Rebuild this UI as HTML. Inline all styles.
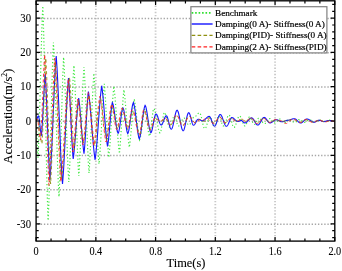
<!DOCTYPE html>
<html><head><meta charset="utf-8"><style>
html,body{margin:0;padding:0;background:#fff;}
svg{display:block;font-family:"Liberation Serif",serif;filter:blur(0.25px);}
text{stroke:#000;stroke-width:0.12px;}
</style></head><body>
<svg width="342" height="271" viewBox="0 0 342 271">
<defs><clipPath id="pc"><rect x="36.1" y="1.0" width="298.7" height="240.0"/></clipPath></defs>
<g stroke="#c8c8c8" stroke-width="1.8" stroke-dasharray="1.35 1.75"><line x1="95.84" y1="2.5" x2="95.84" y2="241.0"/><line x1="155.58" y1="2.5" x2="155.58" y2="241.0"/><line x1="215.32" y1="2.5" x2="215.32" y2="241.0"/><line x1="275.06" y1="2.5" x2="275.06" y2="241.0"/></g><g stroke="#a6a6a6" stroke-width="1.5" stroke-dasharray="1.35 1.8"><line x1="37.6" y1="18.44" x2="334.8" y2="18.44"/><line x1="37.6" y1="52.73" x2="334.8" y2="52.73"/><line x1="37.6" y1="87.01" x2="334.8" y2="87.01"/><line x1="37.6" y1="121.30" x2="334.8" y2="121.30"/><line x1="37.6" y1="155.59" x2="334.8" y2="155.59"/><line x1="37.6" y1="189.87" x2="334.8" y2="189.87"/><line x1="37.6" y1="224.16" x2="334.8" y2="224.16"/></g><g clip-path="url(#pc)"><path d="M36.00 121.00 36.25 123.59 36.50 127.82 36.75 133.32 37.00 139.50 37.25 145.68 37.50 151.18 37.75 155.41 38.00 158.00 38.25 152.79 38.51 146.75 38.76 139.94 39.01 132.39 39.26 124.19 39.52 115.43 39.77 106.21 40.02 96.66 40.27 86.91 40.53 77.09 40.78 67.34 41.03 57.79 41.28 48.57 41.54 39.81 41.79 31.61 42.04 24.06 42.29 17.25 42.55 11.21 42.80 6.00 43.05 12.61 43.30 20.16 43.56 28.63 43.81 37.97 44.06 48.09 44.31 58.92 44.57 70.35 44.82 82.26 45.07 94.51 45.32 106.98 45.58 119.52 45.83 131.99 46.08 144.24 46.33 156.15 46.59 167.58 46.84 178.41 47.09 188.53 47.34 197.87 47.60 206.34 47.85 213.89 48.10 220.50 48.35 215.02 48.60 208.75 48.86 201.72 49.11 193.97 49.36 185.57 49.61 176.58 49.87 167.10 50.12 157.22 50.37 147.05 50.62 136.70 50.88 126.30 51.13 115.95 51.38 105.78 51.63 95.90 51.89 86.42 52.14 77.43 52.39 69.03 52.64 61.28 52.90 54.25 53.15 47.98 53.40 42.50 53.65 47.02 53.91 52.16 54.16 57.90 54.42 64.22 54.67 71.06 54.93 78.38 55.18 86.10 55.44 94.17 55.69 102.50 55.95 111.01 56.20 119.60 56.45 128.19 56.71 136.70 56.96 145.03 57.22 153.10 57.47 160.82 57.73 168.14 57.98 174.98 58.24 181.30 58.49 187.04 58.75 192.18 59.00 196.70 59.26 191.63 59.51 185.72 59.77 179.01 60.02 171.57 60.28 163.48 60.53 154.85 60.79 145.79 61.04 136.44 61.30 126.95 61.56 117.46 61.81 108.11 62.07 99.05 62.32 90.42 62.58 82.33 62.83 74.89 63.09 68.18 63.34 62.27 63.60 57.20 63.86 61.25 64.12 65.91 64.38 71.15 64.64 76.94 64.90 83.23 65.16 89.95 65.42 97.04 65.68 104.40 65.94 111.95 66.20 119.60 66.46 127.25 66.72 134.80 66.98 142.16 67.24 149.25 67.50 155.97 67.76 162.26 68.02 168.05 68.28 173.29 68.54 177.95 68.80 182.00 69.05 178.22 69.31 173.87 69.56 168.98 69.82 163.57 70.08 157.70 70.33 151.43 70.58 144.81 70.84 137.94 71.09 130.89 71.35 123.75 71.61 116.61 71.86 109.56 72.12 102.69 72.37 96.07 72.62 89.80 72.88 83.93 73.14 78.52 73.39 73.63 73.65 69.28 73.90 65.50 74.16 69.29 74.42 73.68 74.67 78.63 74.93 84.12 75.19 90.08 75.45 96.45 75.71 103.15 75.96 110.09 76.22 117.18 76.48 124.32 76.74 131.41 76.99 138.35 77.25 145.05 77.51 151.42 77.77 157.38 78.03 162.87 78.28 167.82 78.54 172.21 78.80 176.00 79.06 172.46 79.32 168.40 79.58 163.83 79.84 158.77 80.10 153.29 80.36 147.42 80.62 141.24 80.88 134.81 81.14 128.22 81.40 121.55 81.66 114.88 81.92 108.29 82.18 101.86 82.44 95.68 82.70 89.81 82.96 84.33 83.22 79.27 83.48 74.70 83.74 70.64 84.00 67.10 84.25 70.54 84.50 74.49 84.75 78.94 85.00 83.85 85.25 89.19 85.50 94.89 85.75 100.90 86.00 107.15 86.25 113.56 86.50 120.05 86.75 126.54 87.00 132.95 87.25 139.20 87.50 145.21 87.75 150.91 88.00 156.25 88.25 161.16 88.50 165.61 88.75 169.56 89.00 173.00 89.26 169.58 89.52 165.62 89.77 161.15 90.03 156.20 90.29 150.82 90.55 145.08 90.81 139.03 91.06 132.77 91.32 126.37 91.58 119.93 91.84 113.53 92.09 107.27 92.35 101.22 92.61 95.48 92.87 90.10 93.13 85.15 93.38 80.68 93.64 76.72 93.90 73.30 94.16 76.24 94.41 79.63 94.67 83.44 94.92 87.65 95.18 92.22 95.43 97.10 95.69 102.25 95.94 107.60 96.20 113.09 96.45 118.65 96.70 124.21 96.96 129.70 97.22 135.05 97.47 140.20 97.72 145.08 97.98 149.65 98.23 153.86 98.49 157.67 98.75 161.06 99.00 164.00 99.25 161.53 99.50 158.71 99.76 155.55 100.01 152.06 100.26 148.28 100.51 144.24 100.77 139.97 101.02 135.52 101.27 130.95 101.52 126.29 101.78 121.61 102.03 116.95 102.28 112.38 102.53 107.93 102.79 103.66 103.04 99.62 103.29 95.84 103.54 92.35 103.80 89.19 104.05 86.37 104.30 83.90 104.55 86.58 104.80 89.69 105.05 93.23 105.30 97.16 105.55 101.42 105.80 105.98 106.05 110.76 106.30 115.69 106.55 120.70 106.80 125.71 107.05 130.64 107.30 135.42 107.55 139.98 107.80 144.24 108.05 148.17 108.30 151.71 108.55 154.82 108.80 157.50 109.05 155.19 109.31 152.52 109.56 149.53 109.82 146.22 110.08 142.63 110.33 138.79 110.58 134.74 110.84 130.53 111.09 126.22 111.35 121.85 111.61 117.48 111.86 113.17 112.12 108.96 112.37 104.91 112.62 101.07 112.88 97.48 113.14 94.17 113.39 91.18 113.65 88.51 113.90 86.20 114.15 88.18 114.40 90.42 114.65 92.93 114.90 95.69 115.15 98.68 115.40 101.88 115.65 105.26 115.90 108.79 116.15 112.43 116.40 116.14 116.65 119.90 116.90 123.66 117.15 127.37 117.40 131.01 117.65 134.54 117.90 137.92 118.15 141.12 118.40 144.11 118.65 146.87 118.90 149.38 119.15 151.62 119.40 153.60 119.65 151.28 119.90 148.57 120.15 145.50 120.40 142.09 120.65 138.38 120.90 134.43 121.15 130.28 121.40 126.00 121.65 121.65 121.90 117.30 122.15 113.02 122.40 108.87 122.65 104.92 122.90 101.21 123.15 97.80 123.40 94.73 123.65 92.02 123.90 89.70 124.16 91.48 124.41 93.51 124.67 95.79 124.93 98.30 125.19 101.02 125.44 103.94 125.70 107.01 125.96 110.21 126.21 113.51 126.47 116.86 126.73 120.24 126.99 123.59 127.24 126.89 127.50 130.09 127.76 133.16 128.01 136.08 128.27 138.80 128.53 141.31 128.79 143.59 129.04 145.62 129.30 147.40 129.56 145.84 129.82 143.98 130.07 141.85 130.33 139.47 130.59 136.85 130.85 134.03 131.11 131.05 131.36 127.96 131.62 124.79 131.88 121.61 132.14 118.44 132.39 115.35 132.65 112.37 132.91 109.55 133.17 106.93 133.43 104.55 133.68 102.42 133.94 100.56 134.20 99.00 134.45 99.98 134.70 101.21 134.96 102.69 135.21 104.40 135.46 106.33 135.71 108.45 135.97 110.73 136.22 113.14 136.47 115.65 136.72 118.21 136.98 120.79 137.23 123.35 137.48 125.86 137.73 128.27 137.99 130.55 138.24 132.67 138.49 134.60 138.74 136.31 139.00 137.79 139.25 139.02 139.50 140.00 139.75 139.50 140.00 138.77 140.25 137.82 140.50 136.66 140.75 135.30 141.00 133.77 141.25 132.09 141.50 130.28 141.75 128.37 142.00 126.40 142.25 124.40 142.50 122.40 142.75 120.43 143.00 118.52 143.25 116.71 143.50 115.03 143.75 113.50 144.00 112.14 144.25 110.98 144.50 110.03 144.75 109.30 145.00 108.80 145.25 109.28 145.50 110.08 145.75 111.20 146.00 112.60 146.25 114.26 146.50 116.12 146.75 118.15 147.00 120.30 147.25 122.50 147.50 124.70 147.75 126.85 148.00 128.88 148.25 130.74 148.50 132.40 148.75 133.80 149.00 134.92 149.25 135.72 149.50 136.20 149.75 135.67 150.01 134.77 150.26 133.53 150.51 131.97 150.76 130.14 151.02 128.08 151.27 125.86 151.52 123.53 151.78 121.17 152.03 118.84 152.28 116.62 152.54 114.56 152.79 112.73 153.04 111.17 153.29 109.93 153.55 109.03 153.80 108.50 154.06 108.75 154.32 109.17 154.58 109.77 154.83 110.53 155.09 111.44 155.35 112.49 155.61 113.67 155.87 114.95 156.12 116.32 156.38 117.76 156.64 119.24 156.90 120.75 157.16 122.26 157.42 123.74 157.68 125.18 157.93 126.55 158.19 127.83 158.45 129.01 158.71 130.06 158.97 130.97 159.22 131.73 159.48 132.33 159.74 132.75 160.00 133.00 160.25 132.75 160.50 132.23 160.75 131.44 161.00 130.40 161.25 129.15 161.50 127.72 161.75 126.14 162.00 124.47 162.25 122.75 162.50 121.03 162.75 119.36 163.00 117.78 163.25 116.35 163.50 115.10 163.75 114.06 164.00 113.27 164.25 112.75 164.50 112.50 164.75 112.59 165.00 112.85 165.25 113.29 165.50 113.88 165.75 114.62 166.00 115.49 166.25 116.46 166.50 117.51 166.75 118.62 167.00 119.75 167.25 120.88 167.50 121.99 167.75 123.04 168.00 124.01 168.25 124.88 168.50 125.62 168.75 126.21 169.00 126.65 169.25 126.91 169.50 127.00 169.75 126.93 170.00 126.73 170.25 126.40 170.50 125.95 170.75 125.39 171.00 124.73 171.25 124.00 171.50 123.20 171.75 122.36 172.00 121.50 172.25 120.64 172.50 119.80 172.75 119.00 173.00 118.27 173.25 117.61 173.50 117.05 173.75 116.60 174.00 116.27 174.25 116.07 174.50 116.00 174.75 116.10 175.00 116.38 175.25 116.84 175.50 117.46 175.75 118.22 176.00 119.09 176.25 120.02 176.50 121.00 176.75 121.98 177.00 122.91 177.25 123.78 177.50 124.54 177.75 125.16 178.00 125.62 178.25 125.90 178.50 126.00 178.75 125.96 179.00 125.84 179.25 125.64 179.50 125.37 179.75 125.02 180.00 124.62 180.25 124.16 180.50 123.66 180.75 123.13 181.00 122.57 181.25 122.00 181.50 121.43 181.75 120.87 182.00 120.34 182.25 119.84 182.50 119.38 182.75 118.98 183.00 118.63 183.25 118.36 183.50 118.16 183.75 118.04 184.00 118.00 184.25 118.04 184.50 118.17 184.75 118.38 185.00 118.67 185.25 119.03 185.50 119.44 185.75 119.91 186.00 120.42 186.25 120.95 186.50 121.50 186.75 122.05 187.00 122.58 187.25 123.09 187.50 123.56 187.75 123.97 188.00 124.33 188.25 124.62 188.50 124.83 188.75 124.96 189.00 125.00 189.26 124.95 189.52 124.80 189.78 124.56 190.04 124.24 190.30 123.83 190.56 123.35 190.82 122.82 191.08 122.24 191.34 121.63 191.60 121.00 191.86 120.37 192.12 119.76 192.38 119.18 192.64 118.65 192.90 118.17 193.16 117.76 193.42 117.44 193.68 117.20 193.94 117.05 194.20 117.00 194.45 116.98 194.70 116.91 194.96 116.79 195.21 116.64 195.46 116.44 195.71 116.21 195.97 115.95 196.22 115.67 196.47 115.37 196.72 115.06 196.98 114.74 197.23 114.43 197.48 114.13 197.73 113.85 197.99 113.59 198.24 113.36 198.49 113.16 198.74 113.01 199.00 112.89 199.25 112.82 199.50 112.80 199.75 112.90 200.00 113.17 200.26 113.61 200.51 114.21 200.76 114.95 201.01 115.82 201.27 116.79 201.52 117.86 201.77 118.99 202.02 120.16 202.28 121.34 202.53 122.51 202.78 123.64 203.03 124.71 203.29 125.68 203.54 126.55 203.79 127.29 204.04 127.89 204.30 128.33 204.55 128.60 204.80 128.70 205.06 128.63 205.32 128.41 205.58 128.06 205.84 127.58 206.10 126.99 206.36 126.29 206.62 125.51 206.88 124.66 207.14 123.77 207.40 122.85 207.66 121.93 207.92 121.04 208.18 120.19 208.44 119.41 208.70 118.71 208.96 118.12 209.22 117.64 209.48 117.29 209.74 117.07 210.00 117.00 210.25 117.09 210.50 117.34 210.75 117.76 211.00 118.32 211.25 119.00 211.50 119.78 211.75 120.62 212.00 121.50 212.25 122.38 212.50 123.22 212.75 124.00 213.00 124.68 213.25 125.24 213.50 125.66 213.75 125.91 214.00 126.00 214.25 125.94 214.50 125.76 214.75 125.46 215.00 125.05 215.25 124.54 215.50 123.94 215.75 123.27 216.00 122.55 216.25 121.78 216.50 121.00 216.75 120.22 217.00 119.45 217.25 118.73 217.50 118.06 217.75 117.46 218.00 116.95 218.25 116.54 218.50 116.24 218.75 116.06 219.00 116.00 219.25 116.08 219.50 116.30 219.75 116.67 220.00 117.17 220.25 117.79 220.50 118.50 220.75 119.29 221.00 120.13 221.25 121.00 221.50 121.87 221.75 122.71 222.00 123.50 222.25 124.21 222.50 124.83 222.75 125.33 223.00 125.70 223.25 125.92 223.50 126.00 223.75 125.94 224.00 125.78 224.25 125.50 224.50 125.13 224.75 124.66 225.00 124.10 225.25 123.47 225.50 122.78 225.75 122.05 226.00 121.28 226.25 120.50 226.50 119.72 226.75 118.95 227.00 118.22 227.25 117.53 227.50 116.90 227.75 116.34 228.00 115.87 228.25 115.50 228.50 115.22 228.75 115.06 229.00 115.00 229.25 115.08 229.50 115.31 229.75 115.68 230.00 116.19 230.25 116.83 230.50 117.58 230.75 118.41 231.00 119.32 231.25 120.27 231.50 121.25 231.75 122.23 232.00 123.18 232.25 124.09 232.50 124.92 232.75 125.67 233.00 126.31 233.25 126.82 233.50 127.19 233.75 127.42 234.00 127.50 234.25 127.44 234.50 127.27 234.75 126.98 235.00 126.59 235.25 126.10 235.50 125.52 235.75 124.86 236.00 124.14 236.25 123.37 236.50 122.57 236.75 121.75 237.00 120.93 237.25 120.13 237.50 119.36 237.75 118.64 238.00 117.98 238.25 117.40 238.50 116.91 238.75 116.52 239.00 116.23 239.25 116.06 239.50 116.00 239.75 116.05 240.00 116.20 240.25 116.45 240.50 116.79 240.75 117.22 241.00 117.73 241.25 118.30 241.50 118.92 241.75 119.59 242.00 120.29 242.25 121.00 242.50 121.71 242.75 122.41 243.00 123.08 243.25 123.70 243.50 124.27 243.75 124.78 244.00 125.21 244.25 125.55 244.50 125.80 244.75 125.95 245.00 126.00 245.25 125.93 245.50 125.73 245.75 125.40 246.00 124.95 246.25 124.39 246.50 123.75 246.75 123.04 247.00 122.28 247.25 121.50 247.50 120.72 247.75 119.96 248.00 119.25 248.25 118.61 248.50 118.05 248.75 117.60 249.00 117.27 249.25 117.07 249.50 117.00 249.75 117.05 250.00 117.18 250.25 117.41 250.50 117.72 250.75 118.10 251.00 118.55 251.25 119.05 251.50 119.59 251.75 120.16 252.00 120.75 252.25 121.34 252.50 121.91 252.75 122.45 253.00 122.95 253.25 123.40 253.50 123.78 253.75 124.09 254.00 124.32 254.25 124.45 254.50 124.50 254.75 124.45 255.00 124.30 255.25 124.06 255.50 123.74 255.75 123.34 256.00 122.88 256.25 122.36 256.50 121.81 256.75 121.25 257.00 120.69 257.25 120.14 257.50 119.62 257.75 119.16 258.00 118.76 258.25 118.44 258.50 118.20 258.75 118.05 259.00 118.00 259.26 118.03 259.51 118.13 259.77 118.28 260.03 118.50 260.29 118.76 260.54 119.07 260.80 119.42 261.06 119.81 261.31 120.22 261.57 120.64 261.83 121.06 262.09 121.48 262.34 121.89 262.60 122.28 262.86 122.63 263.11 122.94 263.37 123.20 263.63 123.42 263.89 123.57 264.14 123.67 264.40 123.70 264.65 123.67 264.91 123.57 265.16 123.42 265.42 123.20 265.67 122.94 265.93 122.63 266.19 122.28 266.44 121.90 266.69 121.51 266.95 121.10 267.20 120.69 267.46 120.30 267.71 119.92 267.97 119.57 268.23 119.26 268.48 119.00 268.74 118.78 268.99 118.63 269.25 118.53 269.50 118.50 269.75 118.53 270.00 118.61 270.25 118.75 270.50 118.93 270.75 119.16 271.00 119.43 271.25 119.73 271.50 120.05 271.75 120.40 272.00 120.75 272.25 121.10 272.50 121.45 272.75 121.77 273.00 122.07 273.25 122.34 273.50 122.57 273.75 122.75 274.00 122.89 274.25 122.97 274.50 123.00 274.75 122.98 275.00 122.90 275.25 122.78 275.50 122.62 275.75 122.41 276.00 122.18 276.25 121.91 276.50 121.62 276.75 121.31 277.00 121.00 277.25 120.69 277.50 120.38 277.75 120.09 278.00 119.82 278.25 119.59 278.50 119.38 278.75 119.22 279.00 119.10 279.25 119.02 279.50 119.00 279.75 119.02 280.00 119.09 280.25 119.21 280.50 119.36 280.75 119.56 281.00 119.78 281.25 120.04 281.50 120.31 281.75 120.60 282.00 120.90 282.25 121.20 282.50 121.49 282.75 121.76 283.00 122.02 283.25 122.24 283.50 122.44 283.75 122.59 284.00 122.71 284.25 122.78 284.50 122.80 284.75 122.78 285.00 122.71 285.25 122.61 285.50 122.47 285.75 122.29 286.00 122.08 286.25 121.84 286.50 121.59 286.75 121.32 287.00 121.05 287.25 120.78 287.50 120.51 287.75 120.26 288.00 120.02 288.25 119.81 288.50 119.63 288.75 119.49 289.00 119.39 289.25 119.32 289.50 119.30 289.75 119.32 290.00 119.38 290.25 119.47 290.50 119.61 290.75 119.77 291.00 119.96 291.25 120.17 291.50 120.41 291.75 120.65 292.00 120.90 292.25 121.15 292.50 121.39 292.75 121.63 293.00 121.84 293.25 122.03 293.50 122.19 293.75 122.33 294.00 122.42 294.25 122.48 294.50 122.50 294.75 122.48 295.00 122.43 295.25 122.34 295.50 122.21 295.75 122.06 296.00 121.88 296.25 121.68 296.50 121.46 296.75 121.23 297.00 121.00 297.25 120.77 297.50 120.54 297.75 120.32 298.00 120.12 298.25 119.94 298.50 119.79 298.75 119.66 299.00 119.57 299.25 119.52 299.50 119.50 299.75 119.52 300.00 119.57 300.25 119.65 300.50 119.77 300.75 119.91 301.00 120.08 301.25 120.26 301.50 120.47 301.75 120.68 302.00 120.90 302.25 121.12 302.50 121.33 302.75 121.54 303.00 121.72 303.25 121.89 303.50 122.03 303.75 122.15 304.00 122.23 304.25 122.28 304.50 122.30 304.75 122.28 305.00 122.24 305.25 122.16 305.50 122.06 305.75 121.93 306.00 121.78 306.25 121.62 306.50 121.44 306.75 121.25 307.00 121.05 307.25 120.85 307.50 120.66 307.75 120.48 308.00 120.32 308.25 120.17 308.50 120.04 308.75 119.94 309.00 119.86 309.25 119.82 309.50 119.80 309.75 119.81 310.00 119.85 310.25 119.92 310.50 120.01 310.75 120.12 311.00 120.25 311.25 120.40 311.50 120.56 311.75 120.73 312.00 120.90 312.25 121.07 312.50 121.24 312.75 121.40 313.00 121.55 313.25 121.68 313.50 121.79 313.75 121.88 314.00 121.95 314.25 121.99 314.50 122.00 314.75 121.99 315.00 121.95 315.25 121.89 315.50 121.81 315.75 121.71 316.00 121.59 316.25 121.45 316.50 121.31 316.75 121.16 317.00 121.00 317.25 120.84 317.50 120.69 317.75 120.55 318.00 120.41 318.25 120.29 318.50 120.19 318.75 120.11 319.00 120.05 319.25 120.01 319.50 120.00 319.75 120.01 320.00 120.04 320.25 120.10 320.50 120.17 320.75 120.26 321.00 120.37 321.25 120.49 321.50 120.62 321.75 120.76 322.00 120.90 322.25 121.04 322.50 121.18 322.75 121.31 323.00 121.43 323.25 121.54 323.50 121.63 323.75 121.70 324.00 121.76 324.25 121.79 324.50 121.80 324.75 121.79 325.00 121.76 325.25 121.71 325.50 121.65 325.75 121.57 326.00 121.47 326.25 121.36 326.50 121.25 326.75 121.13 327.00 121.00 327.25 120.87 327.50 120.75 327.75 120.64 328.00 120.53 328.25 120.43 328.50 120.35 328.75 120.29 329.00 120.24 329.25 120.21 329.50 120.20 329.75 120.21 330.00 120.23 330.25 120.27 330.50 120.32 330.75 120.38 331.00 120.45 331.25 120.53 331.50 120.61 331.75 120.70 332.00 120.79 332.25 120.87 332.50 120.95 332.75 121.02 333.00 121.08 333.25 121.13 333.50 121.17 333.75 121.19 334.00 121.20" fill="none" stroke="#40e840" stroke-width="1.2" stroke-dasharray="1.2 2.2"/><path d="M36.00 121.00 36.27 120.85 36.53 120.42 36.80 119.75 37.07 118.93 37.33 118.07 37.60 117.25 37.87 116.58 38.13 116.15 38.40 116.00 38.66 116.41 38.92 117.40 39.17 118.91 39.43 120.86 39.69 123.10 39.95 125.50 40.21 127.90 40.47 130.14 40.73 132.09 40.98 133.60 41.24 134.59 41.50 135.00 41.76 132.08 42.03 128.56 42.29 124.50 42.56 119.95 42.82 115.02 43.09 109.83 43.35 104.50 43.61 99.17 43.88 93.98 44.14 89.05 44.41 84.50 44.67 80.44 44.94 76.92 45.20 74.00 45.46 77.86 45.72 82.35 45.98 87.44 46.24 93.09 46.51 99.24 46.77 105.80 47.03 112.68 47.29 119.79 47.55 127.00 47.81 134.21 48.07 141.32 48.33 148.20 48.59 154.76 48.86 160.91 49.12 166.56 49.38 171.65 49.64 176.14 49.90 180.00 50.15 176.83 50.40 173.27 50.66 169.33 50.91 165.03 51.16 160.38 51.41 155.42 51.66 150.18 51.92 144.68 52.17 138.98 52.42 133.10 52.67 127.11 52.92 121.05 53.18 114.95 53.43 108.89 53.68 102.90 53.93 97.02 54.18 91.32 54.44 85.82 54.69 80.58 54.94 75.62 55.19 70.97 55.44 66.67 55.70 62.73 55.95 59.17 56.20 56.00 56.45 59.27 56.70 62.95 56.96 67.01 57.21 71.45 57.46 76.25 57.71 81.37 57.96 86.79 58.22 92.46 58.47 98.35 58.72 104.41 58.97 110.60 59.22 116.86 59.48 123.14 59.73 129.40 59.98 135.59 60.23 141.65 60.48 147.54 60.74 153.21 60.99 158.63 61.24 163.75 61.49 168.55 61.74 172.99 62.00 177.05 62.25 180.73 62.50 184.00 62.75 181.17 63.00 177.98 63.25 174.44 63.50 170.56 63.75 166.37 64.00 161.89 64.25 157.16 64.50 152.20 64.75 147.06 65.00 141.79 65.25 136.42 65.50 131.00 65.75 125.58 66.00 120.21 66.25 114.94 66.50 109.80 66.75 104.84 67.00 100.11 67.25 95.63 67.50 91.44 67.75 87.56 68.00 84.02 68.25 80.83 68.50 78.00 68.76 80.95 69.02 84.38 69.28 88.27 69.54 92.59 69.81 97.29 70.07 102.30 70.33 107.56 70.59 112.99 70.85 118.50 71.11 124.01 71.37 129.44 71.63 134.70 71.89 139.71 72.16 144.41 72.42 148.73 72.68 152.62 72.94 156.05 73.20 159.00 73.45 157.21 73.70 155.18 73.95 152.91 74.20 150.41 74.45 147.70 74.70 144.81 74.95 141.75 75.20 138.56 75.45 135.26 75.70 131.90 75.95 128.50 76.20 125.10 76.45 121.74 76.70 118.44 76.95 115.25 77.20 112.19 77.45 109.30 77.70 106.59 77.95 104.09 78.20 101.82 78.45 99.79 78.70 98.00 78.95 99.71 79.20 101.67 79.46 103.87 79.71 106.29 79.96 108.91 80.21 111.72 80.47 114.68 80.72 117.77 80.97 120.94 81.22 124.17 81.48 127.43 81.73 130.66 81.98 133.83 82.23 136.92 82.49 139.88 82.74 142.69 82.99 145.31 83.24 147.73 83.50 149.93 83.75 151.89 84.00 153.60 84.26 151.20 84.52 148.38 84.78 145.16 85.04 141.59 85.29 137.71 85.55 133.57 85.81 129.24 86.07 124.79 86.33 120.31 86.59 115.86 86.85 111.53 87.11 107.39 87.36 103.51 87.62 99.94 87.88 96.72 88.14 93.90 88.40 91.50 88.66 93.18 88.92 95.05 89.17 97.12 89.43 99.37 89.69 101.80 89.95 104.39 90.20 107.13 90.46 110.01 90.72 113.00 90.98 116.08 91.23 119.23 91.49 122.43 91.75 125.65 92.01 128.87 92.27 132.07 92.52 135.22 92.78 138.30 93.04 141.29 93.30 144.17 93.55 146.91 93.81 149.50 94.07 151.93 94.33 154.18 94.58 156.25 94.84 158.12 95.10 159.80 95.35 157.98 95.61 155.95 95.86 153.71 96.12 151.26 96.37 148.63 96.62 145.81 96.88 142.84 97.13 139.72 97.38 136.48 97.64 133.14 97.89 129.72 98.15 126.25 98.40 122.75 98.65 119.25 98.91 115.78 99.16 112.36 99.42 109.02 99.67 105.78 99.92 102.66 100.18 99.69 100.43 96.87 100.68 94.24 100.94 91.79 101.19 89.55 101.45 87.52 101.70 85.70 101.95 87.40 102.20 89.32 102.46 91.46 102.71 93.81 102.96 96.36 103.21 99.08 103.47 101.95 103.72 104.95 103.97 108.06 104.22 111.25 104.47 114.48 104.73 117.72 104.98 120.95 105.23 124.14 105.48 127.25 105.73 130.25 105.99 133.12 106.24 135.84 106.49 138.39 106.74 140.74 107.00 142.88 107.25 144.80 107.50 146.50 107.75 145.23 108.01 143.65 108.26 141.77 108.51 139.63 108.76 137.24 109.02 134.63 109.27 131.86 109.52 128.97 109.77 126.00 110.03 123.00 110.28 120.03 110.53 117.14 110.78 114.37 111.04 111.76 111.29 109.37 111.54 107.23 111.79 105.35 112.05 103.77 112.30 102.50 112.55 102.96 112.80 103.63 113.06 104.50 113.31 105.56 113.56 106.81 113.81 108.22 114.07 109.77 114.32 111.45 114.57 113.22 114.82 115.06 115.07 116.95 115.33 118.85 115.58 120.74 115.83 122.58 116.08 124.35 116.33 126.03 116.59 127.58 116.84 128.99 117.09 130.24 117.34 131.30 117.60 132.17 117.85 132.84 118.10 133.30 118.36 132.93 118.62 132.28 118.87 131.35 119.13 130.18 119.39 128.78 119.65 127.18 119.91 125.43 120.16 123.57 120.42 121.63 120.68 119.67 120.94 117.73 121.19 115.87 121.45 114.12 121.71 112.52 121.97 111.12 122.23 109.95 122.48 109.02 122.74 108.37 123.00 108.00 123.25 108.38 123.51 109.05 123.76 109.98 124.01 111.17 124.26 112.59 124.52 114.20 124.77 115.97 125.02 117.86 125.27 119.81 125.53 121.79 125.78 123.74 126.03 125.63 126.28 127.40 126.54 129.01 126.79 130.43 127.04 131.62 127.29 132.55 127.55 133.22 127.80 133.60 128.05 133.11 128.31 132.39 128.56 131.45 128.82 130.29 129.07 128.94 129.33 127.42 129.58 125.75 129.84 123.95 130.09 122.05 130.35 120.09 130.60 118.10 130.85 116.11 131.11 114.15 131.36 112.25 131.62 110.45 131.87 108.78 132.13 107.26 132.38 105.91 132.64 104.75 132.89 103.81 133.15 103.09 133.40 102.60 133.66 103.27 133.91 104.15 134.17 105.25 134.43 106.55 134.68 108.03 134.94 109.68 135.20 111.48 135.45 113.40 135.71 115.43 135.97 117.53 136.22 119.67 136.48 121.83 136.73 123.97 136.99 126.07 137.25 128.10 137.50 130.02 137.76 131.82 138.02 133.47 138.27 134.95 138.53 136.25 138.79 137.35 139.04 138.23 139.30 138.90 139.55 138.34 139.80 137.56 140.06 136.58 140.31 135.40 140.56 134.04 140.81 132.50 141.07 130.82 141.32 129.02 141.57 127.11 141.82 125.14 142.07 123.12 142.33 121.08 142.58 119.06 142.83 117.09 143.08 115.18 143.33 113.38 143.59 111.70 143.84 110.16 144.09 108.80 144.34 107.62 144.60 106.64 144.85 105.86 145.10 105.30 145.36 105.67 145.62 106.26 145.88 107.05 146.14 108.05 146.40 109.24 146.65 110.60 146.91 112.09 147.17 113.71 147.43 115.42 147.69 117.20 147.95 119.00 148.21 120.80 148.47 122.58 148.73 124.29 148.99 125.91 149.25 127.40 149.50 128.76 149.76 129.95 150.02 130.95 150.28 131.74 150.54 132.33 150.80 132.70 151.06 132.53 151.32 132.16 151.58 131.57 151.84 130.79 152.10 129.84 152.36 128.74 152.62 127.51 152.88 126.18 153.14 124.78 153.40 123.35 153.66 121.92 153.92 120.52 154.18 119.19 154.44 117.96 154.70 116.86 154.96 115.91 155.22 115.13 155.48 114.54 155.74 114.17 156.00 114.00 156.26 114.07 156.52 114.27 156.78 114.60 157.04 115.05 157.30 115.61 157.56 116.27 157.82 117.00 158.08 117.80 158.34 118.64 158.60 119.50 158.86 120.36 159.12 121.20 159.38 122.00 159.64 122.73 159.90 123.39 160.16 123.95 160.42 124.40 160.68 124.73 160.94 124.93 161.20 125.00 161.45 124.94 161.71 124.77 161.97 124.50 162.22 124.12 162.47 123.65 162.73 123.10 162.98 122.49 163.24 121.82 163.50 121.12 163.75 120.40 164.00 119.68 164.26 118.98 164.52 118.31 164.77 117.70 165.03 117.15 165.28 116.68 165.53 116.30 165.79 116.03 166.05 115.86 166.30 115.80 166.55 115.88 166.80 116.13 167.05 116.53 167.30 117.08 167.55 117.76 167.80 118.56 168.05 119.46 168.30 120.43 168.55 121.45 168.80 122.50 169.05 123.55 169.30 124.57 169.55 125.54 169.80 126.44 170.05 127.24 170.30 127.92 170.55 128.47 170.80 128.87 171.05 129.12 171.30 129.20 171.55 129.06 171.80 128.76 172.06 128.30 172.31 127.69 172.56 126.94 172.81 126.05 173.07 125.06 173.32 123.97 173.57 122.81 173.82 121.59 174.07 120.33 174.33 119.07 174.58 117.81 174.83 116.59 175.08 115.43 175.33 114.34 175.59 113.35 175.84 112.46 176.09 111.71 176.34 111.10 176.60 110.64 176.85 110.34 177.10 110.20 177.35 110.36 177.60 110.68 177.85 111.15 178.10 111.77 178.35 112.53 178.60 113.42 178.85 114.41 179.10 115.51 179.35 116.69 179.60 117.92 179.85 119.20 180.10 120.50 180.35 121.80 180.60 123.08 180.85 124.31 181.10 125.49 181.35 126.59 181.60 127.58 181.85 128.47 182.10 129.23 182.35 129.85 182.60 130.32 182.85 130.64 183.10 130.80 183.35 130.67 183.61 130.37 183.86 129.90 184.12 129.27 184.37 128.49 184.63 127.58 184.88 126.56 185.14 125.44 185.39 124.25 185.65 123.01 185.90 121.75 186.15 120.49 186.41 119.25 186.66 118.06 186.92 116.94 187.17 115.92 187.43 115.01 187.68 114.23 187.94 113.60 188.19 113.13 188.45 112.83 188.70 112.70 188.95 112.79 189.21 113.04 189.46 113.45 189.71 114.02 189.96 114.72 190.22 115.53 190.47 116.44 190.72 117.42 190.97 118.43 191.23 119.47 191.48 120.48 191.73 121.46 191.98 122.37 192.24 123.18 192.49 123.88 192.74 124.45 192.99 124.86 193.25 125.11 193.50 125.20 193.75 125.16 194.01 125.04 194.26 124.84 194.51 124.57 194.76 124.23 195.02 123.84 195.27 123.41 195.52 122.94 195.77 122.45 196.03 121.95 196.28 121.46 196.53 120.99 196.78 120.56 197.04 120.17 197.29 119.83 197.54 119.56 197.79 119.36 198.05 119.24 198.30 119.20 198.56 119.22 198.83 119.26 199.09 119.33 199.35 119.43 199.61 119.56 199.88 119.69 200.14 119.84 200.40 120.00 200.66 120.16 200.93 120.31 201.19 120.44 201.45 120.57 201.71 120.67 201.97 120.74 202.24 120.78 202.50 120.80 202.76 120.78 203.02 120.74 203.27 120.66 203.53 120.55 203.79 120.41 204.05 120.25 204.30 120.06 204.56 119.85 204.82 119.62 205.08 119.38 205.33 119.13 205.59 118.87 205.85 118.60 206.11 118.33 206.37 118.07 206.62 117.82 206.88 117.58 207.14 117.35 207.40 117.14 207.65 116.95 207.91 116.79 208.17 116.65 208.43 116.54 208.68 116.46 208.94 116.42 209.20 116.40 209.45 116.45 209.70 116.62 209.96 116.88 210.21 117.24 210.46 117.69 210.71 118.23 210.97 118.83 211.22 119.48 211.47 120.17 211.72 120.89 211.98 121.61 212.23 122.33 212.48 123.02 212.73 123.67 212.99 124.27 213.24 124.81 213.49 125.26 213.74 125.62 214.00 125.88 214.25 126.05 214.50 126.10 214.76 126.04 215.02 125.87 215.28 125.58 215.54 125.18 215.80 124.68 216.05 124.10 216.31 123.44 216.57 122.71 216.83 121.93 217.09 121.13 217.35 120.30 217.61 119.47 217.87 118.67 218.13 117.89 218.39 117.16 218.65 116.50 218.90 115.92 219.16 115.42 219.42 115.02 219.68 114.73 219.94 114.56 220.20 114.50 220.46 114.55 220.72 114.70 220.97 114.95 221.23 115.29 221.49 115.72 221.75 116.23 222.01 116.81 222.27 117.45 222.53 118.14 222.78 118.87 223.04 119.63 223.30 120.40 223.56 121.17 223.82 121.93 224.07 122.66 224.33 123.35 224.59 123.99 224.85 124.57 225.11 125.08 225.37 125.51 225.62 125.85 225.88 126.10 226.14 126.25 226.40 126.30 226.65 126.26 226.90 126.12 227.15 125.91 227.40 125.61 227.65 125.24 227.90 124.80 228.15 124.30 228.40 123.76 228.65 123.18 228.90 122.57 229.15 121.95 229.40 121.33 229.65 120.72 229.90 120.14 230.15 119.60 230.40 119.10 230.65 118.66 230.90 118.29 231.15 117.99 231.40 117.78 231.65 117.64 231.90 117.60 232.15 117.62 232.41 117.67 232.66 117.75 232.92 117.86 233.17 118.00 233.43 118.17 233.68 118.36 233.93 118.57 234.19 118.80 234.44 119.05 234.70 119.30 234.95 119.55 235.20 119.80 235.46 120.05 235.71 120.30 235.97 120.52 236.22 120.74 236.47 120.93 236.73 121.10 236.98 121.24 237.24 121.35 237.49 121.43 237.75 121.48 238.00 121.50 238.25 121.48 238.50 121.43 238.75 121.35 239.00 121.25 239.25 121.13 239.50 121.00 239.75 120.87 240.00 120.75 240.25 120.65 240.50 120.57 240.75 120.52 241.00 120.50 241.26 120.53 241.52 120.60 241.78 120.73 242.04 120.90 242.30 121.10 242.56 121.33 242.82 121.57 243.08 121.83 243.34 122.07 243.60 122.30 243.86 122.50 244.12 122.67 244.38 122.80 244.64 122.87 244.90 122.90 245.16 122.88 245.42 122.83 245.67 122.74 245.93 122.61 246.19 122.46 246.45 122.27 246.70 122.06 246.96 121.82 247.22 121.56 247.48 121.29 247.73 121.00 247.99 120.70 248.25 120.40 248.51 120.10 248.77 119.80 249.02 119.51 249.28 119.24 249.54 118.98 249.80 118.74 250.05 118.53 250.31 118.34 250.57 118.19 250.83 118.06 251.08 117.97 251.34 117.92 251.60 117.90 251.86 117.93 252.12 118.02 252.38 118.17 252.63 118.38 252.89 118.63 253.15 118.94 253.41 119.29 253.67 119.67 253.93 120.09 254.18 120.53 254.44 120.99 254.70 121.45 254.96 121.91 255.22 122.37 255.47 122.81 255.73 123.22 255.99 123.61 256.25 123.96 256.51 124.27 256.77 124.52 257.03 124.73 257.28 124.88 257.54 124.97 257.80 125.00 258.05 124.97 258.30 124.88 258.56 124.73 258.81 124.53 259.06 124.27 259.31 123.97 259.56 123.62 259.82 123.24 260.07 122.82 260.32 122.37 260.57 121.91 260.82 121.44 261.08 120.96 261.33 120.49 261.58 120.03 261.83 119.58 262.08 119.16 262.34 118.78 262.59 118.43 262.84 118.13 263.09 117.87 263.34 117.67 263.60 117.52 263.85 117.43 264.10 117.40 264.36 117.43 264.61 117.50 264.87 117.63 265.13 117.80 265.38 118.02 265.64 118.27 265.90 118.56 266.15 118.88 266.41 119.23 266.67 119.59 266.92 119.96 267.18 120.34 267.43 120.71 267.69 121.07 267.95 121.42 268.20 121.74 268.46 122.03 268.72 122.28 268.97 122.50 269.23 122.67 269.49 122.80 269.74 122.87 270.00 122.90 270.25 122.89 270.50 122.85 270.76 122.79 271.01 122.70 271.26 122.59 271.51 122.47 271.76 122.32 272.02 122.16 272.27 121.98 272.52 121.79 272.77 121.60 273.02 121.40 273.28 121.20 273.53 121.00 273.78 120.81 274.03 120.62 274.28 120.44 274.54 120.28 274.79 120.13 275.04 120.01 275.29 119.90 275.54 119.81 275.80 119.75 276.05 119.71 276.30 119.70 276.56 119.71 276.82 119.74 277.08 119.79 277.34 119.87 277.60 119.96 277.85 120.06 278.11 120.18 278.37 120.31 278.63 120.45 278.89 120.60 279.15 120.75 279.41 120.90 279.67 121.05 279.93 121.19 280.19 121.32 280.45 121.44 280.70 121.54 280.96 121.63 281.22 121.71 281.48 121.76 281.74 121.79 282.00 121.80 282.25 121.79 282.50 121.77 282.75 121.74 283.00 121.69 283.25 121.63 283.50 121.57 283.75 121.49 284.00 121.40 284.25 121.31 284.50 121.21 284.75 121.10 285.00 121.00 285.25 120.90 285.50 120.79 285.75 120.69 286.00 120.60 286.25 120.51 286.50 120.43 286.75 120.37 287.00 120.31 287.25 120.26 287.50 120.23 287.75 120.21 288.00 120.20 288.25 120.19 288.50 120.18 288.76 120.15 289.01 120.11 289.26 120.06 289.51 120.00 289.76 119.93 290.02 119.85 290.27 119.77 290.52 119.68 290.77 119.59 291.02 119.50 291.28 119.40 291.53 119.31 291.78 119.22 292.03 119.13 292.28 119.05 292.54 118.97 292.79 118.90 293.04 118.84 293.29 118.79 293.54 118.75 293.80 118.72 294.05 118.71 294.30 118.70 294.55 118.72 294.80 118.77 295.06 118.85 295.31 118.97 295.56 119.11 295.81 119.28 296.06 119.48 296.32 119.70 296.57 119.93 296.82 120.19 297.07 120.45 297.32 120.72 297.58 120.98 297.83 121.25 298.08 121.51 298.33 121.77 298.58 122.00 298.84 122.22 299.09 122.42 299.34 122.59 299.59 122.73 299.84 122.85 300.10 122.93 300.35 122.98 300.60 123.00 300.85 122.98 301.10 122.94 301.36 122.86 301.61 122.75 301.86 122.62 302.11 122.46 302.36 122.27 302.62 122.07 302.87 121.85 303.12 121.62 303.37 121.37 303.62 121.13 303.88 120.87 304.13 120.63 304.38 120.38 304.63 120.15 304.88 119.93 305.14 119.73 305.39 119.54 305.64 119.38 305.89 119.25 306.14 119.14 306.40 119.06 306.65 119.02 306.90 119.00 307.15 119.01 307.41 119.04 307.66 119.09 307.91 119.16 308.17 119.25 308.42 119.35 308.67 119.47 308.93 119.60 309.18 119.75 309.44 119.91 309.69 120.07 309.94 120.24 310.20 120.42 310.45 120.60 310.70 120.78 310.96 120.96 311.21 121.13 311.46 121.29 311.72 121.45 311.97 121.60 312.23 121.73 312.48 121.85 312.73 121.95 312.99 122.04 313.24 122.11 313.49 122.16 313.75 122.19 314.00 122.20 314.25 122.19 314.50 122.15 314.75 122.10 315.00 122.02 315.25 121.92 315.50 121.81 315.75 121.68 316.00 121.54 316.25 121.40 316.50 121.25 316.75 121.10 317.00 120.96 317.25 120.82 317.50 120.69 317.75 120.58 318.00 120.48 318.25 120.40 318.50 120.35 318.75 120.31 319.00 120.30 319.25 120.31 319.50 120.33 319.75 120.37 320.00 120.42 320.25 120.49 320.50 120.57 320.75 120.65 321.00 120.75 321.25 120.85 321.50 120.95 321.75 121.05 322.00 121.15 322.25 121.25 322.50 121.33 322.75 121.41 323.00 121.48 323.25 121.53 323.50 121.57 323.75 121.59 324.00 121.60 324.25 121.59 324.50 121.57 324.75 121.54 325.00 121.49 325.25 121.44 325.50 121.37 325.75 121.30 326.00 121.22 326.25 121.14 326.50 121.05 326.75 120.96 327.00 120.88 327.25 120.80 327.50 120.73 327.75 120.66 328.00 120.61 328.25 120.56 328.50 120.53 328.75 120.51 329.00 120.50 329.25 120.50 329.50 120.52 329.75 120.54 330.00 120.57 330.25 120.60 330.50 120.64 330.75 120.69 331.00 120.74 331.25 120.80 331.50 120.85 331.75 120.90 332.00 120.96 332.25 121.01 332.50 121.06 332.75 121.10 333.00 121.13 333.25 121.16 333.50 121.18 333.75 121.20 334.00 121.20" fill="none" stroke="#1414ff" stroke-width="1.1"/><path d="M36.00 121.00 36.25 120.92 36.50 120.71 36.75 120.38 37.00 120.00 37.25 119.62 37.50 119.29 37.75 119.08 38.00 119.00 38.25 119.46 38.50 120.31 38.75 121.54 39.00 123.09 39.25 124.93 39.50 126.99 39.75 129.21 40.00 131.50 40.25 133.79 40.50 136.01 40.75 138.07 41.00 139.91 41.25 141.46 41.50 142.69 41.75 143.54 42.00 144.00 42.25 140.18 42.51 135.63 42.76 130.40 43.01 124.55 43.27 118.20 43.52 111.48 43.77 104.52 44.03 97.48 44.28 90.52 44.53 83.80 44.79 77.45 45.04 71.60 45.29 66.37 45.55 61.82 45.80 58.00 46.05 62.32 46.31 67.32 46.56 72.97 46.81 79.23 47.06 86.03 47.32 93.29 47.57 100.93 47.82 108.85 48.07 116.93 48.33 125.07 48.58 133.15 48.83 141.07 49.08 148.71 49.34 155.97 49.59 162.77 49.84 169.03 50.09 174.68 50.35 179.68 50.60 184.00 50.86 179.81 51.12 174.97 51.37 169.50 51.63 163.44 51.89 156.86 52.15 149.83 52.41 142.43 52.66 134.77 52.92 126.94 53.18 119.06 53.44 111.23 53.69 103.57 53.95 96.17 54.21 89.14 54.47 82.56 54.73 76.50 54.98 71.03 55.24 66.19 55.50 62.00 55.75 65.15 56.00 68.70 56.25 72.65 56.50 76.96 56.75 81.63 57.00 86.61 57.25 91.88 57.50 97.40 57.75 103.12 58.00 108.99 58.25 114.97 58.50 121.00 58.75 127.03 59.00 133.01 59.25 138.88 59.50 144.60 59.75 150.12 60.00 155.39 60.25 160.37 60.50 165.04 60.75 169.35 61.00 173.30 61.25 176.85 61.50 180.00 61.75 177.97 62.00 175.74 62.25 173.32 62.50 170.71 62.75 167.91 63.00 164.94 63.25 161.81 63.50 158.52 63.75 155.09 64.00 151.53 64.25 147.87 64.50 144.11 64.75 140.27 65.00 136.38 65.25 132.45 65.50 128.50 65.75 124.55 66.00 120.62 66.25 116.73 66.50 112.89 66.75 109.13 67.00 105.47 67.25 101.91 67.50 98.48 67.75 95.19 68.00 92.06 68.25 89.09 68.50 86.29 68.75 83.68 69.00 81.26 69.25 79.03 69.50 77.00 69.75 79.66 70.00 82.75 70.25 86.26 70.50 90.15 70.75 94.38 71.00 98.90 71.25 103.64 71.50 108.53 71.75 113.50 72.00 118.47 72.25 123.36 72.50 128.10 72.75 132.62 73.00 136.85 73.25 140.74 73.50 144.25 73.75 147.34 74.00 150.00 74.25 148.22 74.50 146.13 74.75 143.74 75.00 141.08 75.25 138.18 75.50 135.07 75.75 131.80 76.00 128.43 76.25 125.00 76.50 121.57 76.75 118.20 77.00 114.93 77.25 111.82 77.50 108.92 77.75 106.26 78.00 103.87 78.25 101.78 78.50 100.00 78.75 101.14 79.00 102.57 79.25 104.26 79.50 106.20 79.75 108.38 80.00 110.75 80.25 113.28 80.50 115.95 80.75 118.70 81.00 121.50 81.25 124.30 81.50 127.05 81.75 129.72 82.00 132.25 82.25 134.62 82.50 136.80 82.75 138.74 83.00 140.43 83.25 141.86 83.50 143.00 83.75 141.69 84.00 140.16 84.25 138.42 84.50 136.49 84.75 134.36 85.00 132.07 85.25 129.64 85.50 127.09 85.75 124.44 86.00 121.74 86.25 119.00 86.50 116.26 86.75 113.56 87.00 110.91 87.25 108.36 87.50 105.93 87.75 103.64 88.00 101.51 88.25 99.58 88.50 97.84 88.75 96.31 89.00 95.00 89.25 96.49 89.50 98.19 89.75 100.09 90.00 102.18 90.25 104.45 90.50 106.87 90.75 109.42 91.00 112.09 91.25 114.84 91.50 117.66 91.75 120.50 92.00 123.34 92.25 126.16 92.50 128.91 92.75 131.58 93.00 134.13 93.25 136.55 93.50 138.82 93.75 140.91 94.00 142.81 94.25 144.51 94.50 146.00 94.75 144.81 95.00 143.43 95.25 141.88 95.50 140.15 95.75 138.27 96.00 136.24 96.25 134.07 96.50 131.80 96.75 129.43 97.00 127.00 97.25 124.51 97.50 122.00 97.75 119.49 98.00 117.00 98.25 114.57 98.50 112.20 98.75 109.93 99.00 107.76 99.25 105.73 99.50 103.85 99.75 102.12 100.00 100.57 100.25 99.19 100.50 98.00 100.75 98.89 101.00 99.97 101.25 101.24 101.50 102.70 101.75 104.32 102.00 106.11 102.25 108.03 102.50 110.08 102.75 112.22 103.00 114.44 103.25 116.70 103.50 119.00 103.75 121.30 104.00 123.56 104.25 125.78 104.50 127.92 104.75 129.97 105.00 131.89 105.25 133.68 105.50 135.30 105.75 136.76 106.00 138.03 106.25 139.11 106.50 140.00 106.75 139.35 107.00 138.47 107.25 137.35 107.50 136.03 107.75 134.50 108.00 132.79 108.25 130.93 108.50 128.94 108.75 126.85 109.00 124.69 109.25 122.50 109.50 120.31 109.75 118.15 110.00 116.06 110.25 114.07 110.50 112.21 110.75 110.50 111.00 108.97 111.25 107.65 111.50 106.53 111.75 105.65 112.00 105.00 112.25 105.27 112.50 105.74 112.75 106.41 113.00 107.27 113.25 108.31 113.50 109.50 113.75 110.83 114.00 112.27 114.25 113.80 114.50 115.38 114.75 117.00 115.00 118.62 115.25 120.20 115.50 121.73 115.75 123.17 116.00 124.50 116.25 125.69 116.50 126.73 116.75 127.59 117.00 128.26 117.25 128.73 117.50 129.00 117.75 128.80 118.00 128.38 118.25 127.75 118.50 126.92 118.75 125.90 119.00 124.72 119.25 123.41 119.50 122.00 119.75 120.52 120.00 119.00 120.25 117.48 120.50 116.00 120.75 114.59 121.00 113.28 121.25 112.10 121.50 111.08 121.75 110.25 122.00 109.62 122.25 109.20 122.50 109.00 122.75 109.15 123.00 109.47 123.25 109.97 123.50 110.64 123.75 111.45 124.00 112.41 124.25 113.48 124.50 114.64 124.75 115.89 125.00 117.18 125.25 118.50 125.50 119.82 125.75 121.11 126.00 122.36 126.25 123.52 126.50 124.59 126.75 125.55 127.00 126.36 127.25 127.03 127.50 127.53 127.75 127.85 128.00 128.00 128.25 127.87 128.50 127.54 128.75 127.02 129.00 126.32 129.25 125.45 129.50 124.44 129.75 123.32 130.00 122.10 130.25 120.81 130.50 119.50 130.75 118.19 131.00 116.90 131.25 115.68 131.50 114.56 131.75 113.55 132.00 112.68 132.25 111.98 132.50 111.46 132.75 111.13 133.00 111.00 133.25 111.18 133.50 111.50 133.76 111.94 134.01 112.51 134.26 113.21 134.51 114.01 134.76 114.92 135.01 115.92 135.27 117.01 135.52 118.15 135.77 119.36 136.02 120.60 136.27 121.86 136.53 123.14 136.78 124.40 137.03 125.64 137.28 126.85 137.53 127.99 137.79 129.08 138.04 130.08 138.29 130.99 138.54 131.79 138.79 132.49 139.04 133.06 139.30 133.50 139.55 133.82 139.80 134.00 140.06 133.68 140.32 133.06 140.58 132.15 140.84 130.99 141.11 129.59 141.37 127.99 141.63 126.25 141.89 124.40 142.15 122.50 142.41 120.60 142.67 118.75 142.93 117.01 143.19 115.41 143.46 114.01 143.72 112.85 143.98 111.94 144.24 111.32 144.50 111.00 144.75 111.11 145.00 111.37 145.25 111.76 145.50 112.30 145.75 112.95 146.00 113.73 146.25 114.61 146.50 115.58 146.75 116.62 147.00 117.71 147.25 118.85 147.50 120.00 147.75 121.15 148.00 122.29 148.25 123.38 148.50 124.42 148.75 125.39 149.00 126.27 149.25 127.05 149.50 127.70 149.75 128.24 150.00 128.63 150.25 128.89 150.50 129.00 150.75 128.94 151.00 128.76 151.26 128.46 151.51 128.04 151.76 127.53 152.01 126.93 152.27 126.25 152.52 125.51 152.77 124.72 153.02 123.91 153.28 123.09 153.53 122.28 153.78 121.49 154.03 120.75 154.29 120.07 154.54 119.47 154.79 118.96 155.04 118.54 155.30 118.24 155.55 118.06 155.80 118.00 156.06 118.02 156.32 118.10 156.58 118.22 156.84 118.38 157.10 118.59 157.36 118.82 157.62 119.09 157.88 119.38 158.14 119.69 158.40 120.00 158.66 120.31 158.92 120.62 159.18 120.91 159.44 121.18 159.70 121.41 159.96 121.62 160.22 121.78 160.48 121.90 160.74 121.98 161.00 122.00 161.25 121.97 161.50 121.89 161.75 121.77 162.00 121.59 162.25 121.37 162.50 121.12 162.75 120.85 163.00 120.55 163.25 120.25 163.50 119.95 163.75 119.65 164.00 119.38 164.25 119.13 164.50 118.91 164.75 118.73 165.00 118.61 165.25 118.53 165.50 118.50 165.75 118.53 166.00 118.62 166.25 118.77 166.50 118.98 166.75 119.23 167.00 119.54 167.25 119.88 167.50 120.25 167.75 120.65 168.00 121.07 168.25 121.50 168.50 121.93 168.75 122.35 169.00 122.75 169.25 123.12 169.50 123.46 169.75 123.77 170.00 124.02 170.25 124.23 170.50 124.38 170.75 124.47 171.00 124.50 171.25 124.46 171.50 124.36 171.75 124.18 172.00 123.93 172.25 123.62 172.50 123.26 172.75 122.84 173.00 122.38 173.25 121.88 173.50 121.35 173.75 120.80 174.00 120.25 174.25 119.70 174.50 119.15 174.75 118.62 175.00 118.12 175.25 117.66 175.50 117.24 175.75 116.88 176.00 116.57 176.25 116.32 176.50 116.14 176.75 116.04 177.00 116.00 177.25 116.04 177.50 116.15 177.75 116.34 178.00 116.60 178.25 116.93 178.50 117.32 178.75 117.76 179.00 118.25 179.25 118.78 179.50 119.34 179.75 119.91 180.00 120.50 180.25 121.09 180.50 121.66 180.75 122.22 181.00 122.75 181.25 123.24 181.50 123.68 181.75 124.07 182.00 124.40 182.25 124.66 182.50 124.85 182.75 124.96 183.00 125.00 183.25 124.96 183.50 124.86 183.75 124.68 184.00 124.43 184.25 124.12 184.50 123.76 184.75 123.34 185.00 122.88 185.25 122.38 185.50 121.85 185.75 121.30 186.00 120.75 186.25 120.20 186.50 119.65 186.75 119.12 187.00 118.62 187.25 118.16 187.50 117.74 187.75 117.38 188.00 117.07 188.25 116.82 188.50 116.64 188.75 116.54 189.00 116.50 189.25 116.53 189.50 116.60 189.75 116.73 190.00 116.90 190.25 117.12 190.50 117.38 190.75 117.67 191.00 118.00 191.25 118.35 191.50 118.72 191.75 119.11 192.00 119.50 192.25 119.89 192.50 120.28 192.75 120.65 193.00 121.00 193.25 121.33 193.50 121.62 193.75 121.88 194.00 122.10 194.25 122.27 194.50 122.40 194.75 122.47 195.00 122.50 195.25 122.48 195.50 122.43 195.75 122.34 196.00 122.21 196.25 122.06 196.50 121.88 196.75 121.68 197.00 121.46 197.25 121.23 197.50 121.00 197.75 120.77 198.00 120.54 198.25 120.32 198.50 120.12 198.75 119.94 199.00 119.79 199.25 119.66 199.50 119.57 199.75 119.52 200.00 119.50 200.25 119.52 200.50 119.58 200.75 119.67 201.00 119.79 201.25 119.94 201.50 120.12 201.75 120.30 202.00 120.50 202.25 120.70 202.50 120.88 202.75 121.06 203.00 121.21 203.25 121.33 203.50 121.42 203.75 121.48 204.00 121.50 204.25 121.48 204.50 121.41 204.75 121.31 205.00 121.17 205.25 120.99 205.50 120.78 205.75 120.54 206.00 120.29 206.25 120.02 206.50 119.75 206.75 119.48 207.00 119.21 207.25 118.96 207.50 118.72 207.75 118.51 208.00 118.33 208.25 118.19 208.50 118.09 208.75 118.02 209.00 118.00 209.25 118.03 209.50 118.12 209.75 118.27 210.00 118.48 210.25 118.73 210.50 119.03 210.75 119.37 211.00 119.73 211.25 120.11 211.50 120.50 211.75 120.89 212.00 121.27 212.25 121.63 212.50 121.97 212.75 122.27 213.00 122.52 213.25 122.73 213.50 122.88 213.75 122.97 214.00 123.00 214.25 122.98 214.50 122.91 214.75 122.79 215.00 122.63 215.25 122.43 215.50 122.19 215.75 121.92 216.00 121.62 216.25 121.30 216.50 120.96 216.75 120.61 217.00 120.25 217.25 119.89 217.50 119.54 217.75 119.20 218.00 118.88 218.25 118.58 218.50 118.31 218.75 118.07 219.00 117.87 219.25 117.71 219.50 117.59 219.75 117.52 220.00 117.50 220.25 117.53 220.50 117.60 220.75 117.73 221.00 117.90 221.25 118.11 221.50 118.36 221.75 118.65 222.00 118.96 222.25 119.30 222.50 119.64 222.75 120.00 223.00 120.36 223.25 120.70 223.50 121.04 223.75 121.35 224.00 121.64 224.25 121.89 224.50 122.10 224.75 122.27 225.00 122.40 225.25 122.47 225.50 122.50 225.75 122.48 226.00 122.43 226.26 122.33 226.51 122.21 226.76 122.05 227.01 121.87 227.27 121.65 227.52 121.42 227.77 121.17 228.02 120.91 228.27 120.64 228.53 120.36 228.78 120.09 229.03 119.83 229.28 119.58 229.53 119.35 229.79 119.13 230.04 118.95 230.29 118.79 230.54 118.67 230.80 118.57 231.05 118.52 231.30 118.50 231.56 118.51 231.82 118.56 232.08 118.63 232.34 118.72 232.60 118.84 232.85 118.98 233.11 119.14 233.37 119.32 233.63 119.51 233.89 119.70 234.15 119.90 234.41 120.10 234.67 120.29 234.93 120.48 235.19 120.66 235.45 120.82 235.70 120.96 235.96 121.08 236.22 121.17 236.48 121.24 236.74 121.29 237.00 121.30 237.25 121.29 237.50 121.24 237.75 121.17 238.00 121.08 238.25 120.96 238.50 120.83 238.75 120.67 239.00 120.51 239.25 120.33 239.50 120.15 239.75 119.97 240.00 119.79 240.25 119.63 240.50 119.47 240.75 119.34 241.00 119.22 241.25 119.13 241.50 119.06 241.75 119.01 242.00 119.00 242.25 119.02 242.50 119.10 242.75 119.21 243.00 119.37 243.25 119.56 243.50 119.77 243.75 120.01 244.00 120.25 244.25 120.49 244.50 120.73 244.75 120.94 245.00 121.13 245.25 121.29 245.50 121.40 245.75 121.48 246.00 121.50 246.25 121.48 246.50 121.42 246.75 121.32 247.00 121.18 247.25 121.02 247.50 120.82 247.75 120.60 248.00 120.36 248.25 120.11 248.50 119.85 248.75 119.59 249.00 119.34 249.25 119.10 249.50 118.88 249.75 118.68 250.00 118.52 250.25 118.38 250.50 118.28 250.75 118.22 251.00 118.20 251.25 118.22 251.50 118.27 251.75 118.36 252.00 118.47 252.25 118.62 252.50 118.80 252.75 119.01 253.00 119.24 253.25 119.48 253.50 119.75 253.75 120.03 254.00 120.31 254.25 120.60 254.50 120.89 254.75 121.17 255.00 121.45 255.25 121.72 255.50 121.96 255.75 122.19 256.00 122.40 256.25 122.58 256.50 122.73 256.75 122.84 257.00 122.93 257.25 122.98 257.50 123.00 257.75 122.98 258.00 122.93 258.25 122.85 258.50 122.74 258.75 122.60 259.00 122.43 259.25 122.24 259.50 122.03 259.75 121.80 260.00 121.55 260.25 121.29 260.50 121.02 260.75 120.75 261.00 120.48 261.25 120.21 261.50 119.95 261.75 119.70 262.00 119.47 262.25 119.26 262.50 119.07 262.75 118.90 263.00 118.76 263.25 118.65 263.50 118.57 263.75 118.52 264.00 118.50 264.25 118.52 264.50 118.56 264.75 118.64 265.00 118.75 265.25 118.88 265.50 119.04 265.75 119.22 266.00 119.42 266.25 119.64 266.50 119.87 266.75 120.11 267.00 120.35 267.25 120.59 267.50 120.83 267.75 121.06 268.00 121.28 268.25 121.48 268.50 121.66 268.75 121.82 269.00 121.95 269.25 122.06 269.50 122.14 269.75 122.18 270.00 122.20 270.25 122.19 270.50 122.16 270.75 122.11 271.00 122.04 271.25 121.95 271.50 121.85 271.75 121.73 272.00 121.60 272.25 121.46 272.50 121.31 272.75 121.16 273.00 121.00 273.25 120.84 273.50 120.69 273.75 120.54 274.00 120.40 274.25 120.27 274.50 120.15 274.75 120.05 275.00 119.96 275.25 119.89 275.50 119.84 275.75 119.81 276.00 119.80 276.25 119.81 276.50 119.84 276.75 119.89 277.00 119.96 277.25 120.04 277.50 120.15 277.75 120.26 278.00 120.38 278.25 120.52 278.50 120.66 278.75 120.80 279.00 120.94 279.25 121.08 279.50 121.22 279.75 121.34 280.00 121.45 280.25 121.56 280.50 121.64 280.75 121.71 281.00 121.76 281.25 121.79 281.50 121.80 281.75 121.79 282.00 121.77 282.25 121.74 282.50 121.69 282.75 121.63 283.00 121.57 283.25 121.49 283.50 121.40 283.75 121.31 284.00 121.21 284.25 121.10 284.50 121.00 284.75 120.90 285.00 120.79 285.25 120.69 285.50 120.60 285.75 120.51 286.00 120.43 286.25 120.37 286.50 120.31 286.75 120.26 287.00 120.23 287.25 120.21 287.50 120.20 287.75 120.20 288.00 120.19 288.25 120.19 288.50 120.18 288.75 120.16 289.00 120.15 289.25 120.13 289.50 120.11 289.75 120.09 290.00 120.07 290.25 120.05 290.50 120.02 290.75 120.00 291.00 119.98 291.25 119.95 291.50 119.93 291.75 119.91 292.00 119.89 292.25 119.87 292.50 119.85 292.75 119.84 293.00 119.82 293.25 119.81 293.50 119.81 293.75 119.80 294.00 119.80 294.25 119.81 294.50 119.83 294.75 119.88 295.00 119.94 295.25 120.01 295.50 120.10 295.75 120.20 296.00 120.32 296.25 120.44 296.50 120.57 296.75 120.71 297.00 120.86 297.25 121.00 297.50 121.14 297.75 121.29 298.00 121.43 298.25 121.56 298.50 121.68 298.75 121.80 299.00 121.90 299.25 121.99 299.50 122.06 299.75 122.12 300.00 122.17 300.25 122.19 300.50 122.20 300.75 122.19 301.00 122.16 301.25 122.11 301.50 122.04 301.75 121.95 302.00 121.85 302.25 121.73 302.50 121.60 302.75 121.46 303.00 121.31 303.25 121.16 303.50 121.00 303.75 120.84 304.00 120.69 304.25 120.54 304.50 120.40 304.75 120.27 305.00 120.15 305.25 120.05 305.50 119.96 305.75 119.89 306.00 119.84 306.25 119.81 306.50 119.80 306.75 119.81 307.00 119.83 307.25 119.87 307.50 119.92 307.75 119.98 308.00 120.06 308.25 120.15 308.50 120.25 308.75 120.36 309.00 120.48 309.25 120.60 309.50 120.73 309.75 120.87 310.00 121.00 310.25 121.13 310.50 121.27 310.75 121.40 311.00 121.52 311.25 121.64 311.50 121.75 311.75 121.85 312.00 121.94 312.25 122.02 312.50 122.08 312.75 122.13 313.00 122.17 313.25 122.19 313.50 122.20 313.75 122.19 314.00 122.17 314.25 122.13 314.50 122.07 314.75 122.00 315.00 121.92 315.25 121.83 315.50 121.73 315.75 121.61 316.00 121.50 316.25 121.37 316.50 121.25 316.75 121.13 317.00 121.00 317.25 120.89 317.50 120.78 317.75 120.67 318.00 120.58 318.25 120.50 318.50 120.43 318.75 120.37 319.00 120.33 319.25 120.31 319.50 120.30 319.75 120.31 320.00 120.33 320.25 120.36 320.50 120.40 320.75 120.45 321.00 120.52 321.25 120.59 321.50 120.67 321.75 120.76 322.00 120.86 322.25 120.95 322.50 121.05 322.75 121.15 323.00 121.24 323.25 121.34 323.50 121.42 323.75 121.51 324.00 121.58 324.25 121.65 324.50 121.70 324.75 121.74 325.00 121.77 325.25 121.79 325.50 121.80 325.75 121.79 326.00 121.77 326.25 121.74 326.50 121.69 326.75 121.64 327.00 121.57 327.25 121.50 327.50 121.42 327.75 121.34 328.00 121.25 328.25 121.16 328.50 121.08 328.75 121.00 329.00 120.93 329.25 120.86 329.50 120.81 329.75 120.76 330.00 120.73 330.25 120.71 330.50 120.70 330.75 120.71 331.00 120.72 331.25 120.75 331.50 120.79 331.75 120.84 332.00 120.89 332.25 120.95 332.50 121.01 332.75 121.06 333.00 121.11 333.25 121.15 333.50 121.18 333.75 121.19 334.00 121.20" fill="none" stroke="#8f8f10" stroke-width="0.9" stroke-dasharray="3.2 2.6"/><path d="M36.00 121.00 36.30 120.71 36.60 120.00 36.90 119.29 37.20 119.00 37.46 119.44 37.72 120.41 37.98 121.86 38.25 123.73 38.51 125.91 38.77 128.28 39.03 130.72 39.29 133.09 39.55 135.27 39.82 137.14 40.08 138.59 40.34 139.56 40.60 140.00 40.86 136.47 41.11 132.29 41.37 127.50 41.62 122.17 41.88 116.37 42.14 110.21 42.39 103.79 42.65 97.25 42.91 90.71 43.16 84.29 43.42 78.13 43.68 72.33 43.93 67.00 44.19 62.21 44.44 58.03 44.70 54.50 44.96 59.92 45.23 66.32 45.49 73.65 45.75 81.82 46.01 90.71 46.27 100.15 46.54 109.98 46.80 120.00 47.06 130.02 47.33 139.85 47.59 149.29 47.85 158.18 48.11 166.35 48.38 173.68 48.64 180.08 48.90 185.50 49.16 181.94 49.41 177.90 49.67 173.41 49.93 168.48 50.18 163.15 50.44 157.45 50.70 151.42 50.95 145.12 51.21 138.60 51.47 131.93 51.72 125.15 51.98 118.35 52.23 111.57 52.49 104.90 52.75 98.38 53.00 92.08 53.26 86.05 53.52 80.35 53.77 75.02 54.03 70.09 54.29 65.60 54.54 61.56 54.80 58.00 55.05 61.31 55.30 65.05 55.55 69.19 55.80 73.72 56.05 78.62 56.30 83.86 56.55 89.40 56.80 95.20 57.05 101.21 57.30 107.38 57.55 113.66 57.80 120.00 58.05 126.34 58.30 132.62 58.55 138.79 58.80 144.80 59.05 150.60 59.30 156.14 59.55 161.38 59.80 166.28 60.05 170.81 60.30 174.95 60.55 178.69 60.80 182.00 61.05 179.83 61.30 177.43 61.55 174.81 61.80 171.98 62.05 168.94 62.30 165.71 62.55 162.29 62.80 158.70 63.05 154.97 63.30 151.10 63.55 147.12 63.80 143.05 64.05 138.90 64.30 134.71 64.55 130.50 64.80 126.29 65.05 122.10 65.30 117.95 65.55 113.88 65.80 109.90 66.05 106.03 66.30 102.30 66.55 98.71 66.80 95.29 67.05 92.06 67.30 89.02 67.55 86.19 67.80 83.57 68.05 81.17 68.30 79.00 68.56 81.66 68.82 84.75 69.08 88.26 69.34 92.15 69.61 96.38 69.87 100.90 70.13 105.64 70.39 110.53 70.65 115.50 70.91 120.47 71.17 125.36 71.43 130.10 71.69 134.62 71.96 138.85 72.22 142.74 72.48 146.25 72.74 149.34 73.00 152.00 73.25 150.18 73.51 148.08 73.76 145.70 74.01 143.07 74.26 140.21 74.52 137.16 74.77 133.94 75.02 130.61 75.27 127.21 75.53 123.79 75.78 120.39 76.03 117.06 76.28 113.84 76.54 110.79 76.79 107.93 77.04 105.30 77.29 102.92 77.55 100.82 77.80 99.00 78.06 100.31 78.32 101.90 78.58 103.74 78.84 105.83 79.10 108.14 79.36 110.65 79.62 113.31 79.88 116.11 80.14 118.98 80.40 121.90 80.66 124.82 80.92 127.69 81.18 130.49 81.44 133.15 81.70 135.66 81.96 137.97 82.22 140.06 82.48 141.90 82.74 143.49 83.00 144.80 83.26 143.20 83.51 141.36 83.77 139.30 84.03 137.04 84.29 134.58 84.54 131.95 84.80 129.17 85.06 126.28 85.31 123.30 85.57 120.27 85.83 117.23 86.09 114.20 86.34 111.22 86.60 108.33 86.86 105.55 87.11 102.92 87.37 100.46 87.63 98.20 87.89 96.14 88.14 94.30 88.40 92.70 88.65 94.33 88.90 96.20 89.16 98.29 89.41 100.60 89.66 103.10 89.91 105.78 90.17 108.60 90.42 111.54 90.67 114.57 90.92 117.65 91.18 120.75 91.43 123.83 91.68 126.86 91.93 129.80 92.19 132.62 92.44 135.30 92.69 137.80 92.94 140.11 93.20 142.20 93.45 144.07 93.70 145.70 93.96 144.43 94.22 142.98 94.48 141.36 94.73 139.57 94.99 137.62 95.25 135.53 95.51 133.32 95.77 130.99 96.03 128.57 96.28 126.09 96.54 123.56 96.80 121.00 97.06 118.44 97.32 115.91 97.58 113.43 97.83 111.01 98.09 108.68 98.35 106.47 98.61 104.38 98.87 102.43 99.12 100.64 99.38 99.02 99.64 97.57 99.90 96.30 100.15 97.37 100.41 98.63 100.66 100.07 100.92 101.69 101.17 103.48 101.43 105.41 101.68 107.49 101.93 109.67 102.19 111.96 102.44 114.31 102.70 116.72 102.95 119.15 103.20 121.58 103.46 123.99 103.71 126.34 103.97 128.63 104.22 130.81 104.47 132.89 104.73 134.82 104.98 136.61 105.24 138.23 105.49 139.67 105.75 140.93 106.00 142.00 106.25 141.22 106.50 140.20 106.75 138.95 107.00 137.49 107.25 135.83 107.50 133.98 107.75 131.98 108.00 129.85 108.25 127.63 108.50 125.33 108.75 123.00 109.00 120.67 109.25 118.37 109.50 116.15 109.75 114.02 110.00 112.02 110.25 110.17 110.50 108.51 110.75 107.05 111.00 105.80 111.25 104.78 111.50 104.00 111.76 104.36 112.02 104.98 112.28 105.84 112.54 106.93 112.80 108.24 113.06 109.73 113.32 111.37 113.58 113.13 113.84 114.97 114.10 116.85 114.36 118.73 114.62 120.57 114.88 122.33 115.14 123.97 115.40 125.46 115.66 126.77 115.92 127.86 116.18 128.72 116.44 129.34 116.70 129.70 116.95 129.48 117.20 129.04 117.46 128.40 117.71 127.56 117.96 126.55 118.21 125.38 118.47 124.07 118.72 122.66 118.97 121.17 119.22 119.63 119.48 118.07 119.73 116.53 119.98 115.04 120.23 113.63 120.49 112.32 120.74 111.15 120.99 110.14 121.24 109.30 121.50 108.66 121.75 108.22 122.00 108.00 122.25 108.20 122.50 108.61 122.76 109.22 123.01 110.02 123.26 110.99 123.51 112.11 123.77 113.37 124.02 114.73 124.27 116.17 124.52 117.65 124.78 119.15 125.03 120.63 125.28 122.07 125.53 123.43 125.79 124.69 126.04 125.81 126.29 126.78 126.54 127.58 126.80 128.19 127.05 128.60 127.30 128.80 127.56 128.61 127.82 128.18 128.07 127.52 128.33 126.65 128.59 125.59 128.85 124.36 129.11 123.00 129.36 121.54 129.62 120.02 129.88 118.48 130.14 116.96 130.39 115.50 130.65 114.14 130.91 112.91 131.17 111.85 131.43 110.98 131.68 110.32 131.94 109.89 132.20 109.70 132.45 109.93 132.71 110.29 132.96 110.78 133.21 111.40 133.47 112.14 133.72 112.99 133.97 113.94 134.23 114.98 134.48 116.11 134.74 117.31 134.99 118.57 135.24 119.87 135.50 121.20 135.75 122.55 136.00 123.90 136.26 125.23 136.51 126.53 136.76 127.79 137.02 128.99 137.27 130.12 137.53 131.16 137.78 132.11 138.03 132.96 138.29 133.70 138.54 134.32 138.79 134.81 139.05 135.17 139.30 135.40 139.56 134.95 139.82 134.15 140.08 133.01 140.34 131.57 140.59 129.86 140.85 127.93 141.11 125.84 141.37 123.66 141.63 121.44 141.89 119.26 142.15 117.17 142.41 115.24 142.66 113.53 142.92 112.09 143.18 110.95 143.44 110.15 143.70 109.70 143.95 109.84 144.20 110.13 144.46 110.56 144.71 111.13 144.96 111.83 145.21 112.64 145.46 113.56 145.72 114.57 145.97 115.66 146.22 116.81 146.47 118.01 146.72 119.23 146.98 120.47 147.23 121.69 147.48 122.89 147.73 124.04 147.98 125.13 148.24 126.14 148.49 127.06 148.74 127.87 148.99 128.57 149.24 129.14 149.50 129.57 149.75 129.86 150.00 130.00 150.26 129.92 150.52 129.69 150.78 129.32 151.04 128.81 151.30 128.17 151.56 127.42 151.82 126.59 152.08 125.68 152.34 124.73 152.60 123.75 152.86 122.77 153.12 121.82 153.38 120.91 153.64 120.08 153.90 119.33 154.16 118.69 154.42 118.18 154.68 117.81 154.94 117.58 155.20 117.50 155.45 117.53 155.71 117.60 155.97 117.72 156.22 117.89 156.47 118.10 156.73 118.35 156.98 118.62 157.24 118.92 157.50 119.23 157.75 119.55 158.00 119.87 158.26 120.18 158.52 120.48 158.77 120.75 159.03 121.00 159.28 121.21 159.53 121.38 159.79 121.50 160.05 121.57 160.30 121.60 160.56 121.57 160.82 121.48 161.08 121.32 161.34 121.12 161.59 120.86 161.85 120.57 162.11 120.26 162.37 119.92 162.63 119.58 162.89 119.24 163.15 118.93 163.41 118.64 163.66 118.38 163.92 118.18 164.18 118.02 164.44 117.93 164.70 117.90 164.96 117.93 165.21 118.04 165.47 118.21 165.73 118.44 165.98 118.73 166.24 119.07 166.50 119.47 166.75 119.90 167.01 120.36 167.27 120.85 167.52 121.35 167.78 121.85 168.03 122.35 168.29 122.84 168.55 123.30 168.80 123.73 169.06 124.13 169.32 124.47 169.57 124.76 169.83 124.99 170.09 125.16 170.34 125.27 170.60 125.30 170.86 125.25 171.11 125.11 171.37 124.87 171.63 124.55 171.88 124.14 172.14 123.67 172.40 123.12 172.65 122.52 172.91 121.87 173.17 121.20 173.42 120.50 173.68 119.80 173.93 119.10 174.19 118.43 174.45 117.78 174.70 117.18 174.96 116.63 175.22 116.16 175.47 115.75 175.73 115.43 175.99 115.19 176.24 115.05 176.50 115.00 176.76 115.05 177.01 115.20 177.27 115.46 177.53 115.80 177.78 116.23 178.04 116.75 178.30 117.33 178.55 117.97 178.81 118.66 179.07 119.38 179.32 120.12 179.58 120.88 179.83 121.62 180.09 122.34 180.35 123.03 180.60 123.67 180.86 124.25 181.12 124.77 181.37 125.20 181.63 125.54 181.89 125.80 182.14 125.95 182.40 126.00 182.65 125.97 182.91 125.88 183.16 125.73 183.41 125.53 183.67 125.27 183.92 124.96 184.18 124.61 184.43 124.21 184.68 123.78 184.94 123.31 185.19 122.82 185.44 122.31 185.70 121.78 185.95 121.25 186.20 120.72 186.46 120.19 186.71 119.68 186.96 119.19 187.22 118.72 187.47 118.29 187.72 117.89 187.98 117.54 188.23 117.23 188.49 116.97 188.74 116.77 188.99 116.62 189.25 116.53 189.50 116.50 189.75 116.53 190.00 116.63 190.25 116.78 190.50 117.00 190.75 117.27 191.00 117.59 191.25 117.95 191.50 118.34 191.75 118.76 192.00 119.20 192.25 119.65 192.50 120.10 192.75 120.54 193.00 120.96 193.25 121.35 193.50 121.71 193.75 122.03 194.00 122.30 194.25 122.52 194.50 122.67 194.75 122.77 195.00 122.80 195.25 122.78 195.50 122.73 195.75 122.64 196.00 122.51 196.25 122.36 196.50 122.18 196.75 121.98 197.00 121.76 197.25 121.53 197.50 121.30 197.75 121.07 198.00 120.84 198.25 120.62 198.50 120.42 198.75 120.24 199.00 120.09 199.25 119.96 199.50 119.87 199.75 119.82 200.00 119.80 200.25 119.82 200.50 119.87 200.75 119.94 201.00 120.04 201.25 120.15 201.50 120.26 201.75 120.36 202.00 120.43 202.25 120.48 202.50 120.50 202.75 120.47 203.00 120.38 203.25 120.23 203.50 120.03 203.75 119.79 204.00 119.53 204.25 119.25 204.50 118.97 204.75 118.71 205.00 118.47 205.25 118.27 205.50 118.12 205.75 118.03 206.00 118.00 206.25 118.01 206.51 118.06 206.76 118.13 207.01 118.23 207.27 118.36 207.52 118.52 207.77 118.69 208.03 118.89 208.28 119.11 208.53 119.35 208.79 119.60 209.04 119.87 209.29 120.14 209.55 120.42 209.80 120.70 210.05 120.98 210.31 121.26 210.56 121.53 210.81 121.80 211.07 122.05 211.32 122.29 211.57 122.51 211.83 122.71 212.08 122.88 212.33 123.04 212.59 123.17 212.84 123.27 213.09 123.34 213.35 123.39 213.60 123.40 213.86 123.37 214.11 123.28 214.37 123.14 214.63 122.93 214.88 122.68 215.14 122.38 215.40 122.05 215.65 121.67 215.91 121.27 216.17 120.85 216.42 120.42 216.68 119.98 216.93 119.55 217.19 119.13 217.45 118.73 217.70 118.35 217.96 118.02 218.22 117.72 218.47 117.47 218.73 117.26 218.99 117.12 219.24 117.03 219.50 117.00 219.76 117.03 220.01 117.13 220.27 117.29 220.53 117.50 220.79 117.77 221.04 118.09 221.30 118.45 221.56 118.84 221.81 119.25 222.07 119.68 222.33 120.12 222.59 120.55 222.84 120.96 223.10 121.35 223.36 121.71 223.61 122.03 223.87 122.30 224.13 122.51 224.39 122.67 224.64 122.77 224.90 122.80 225.16 122.78 225.41 122.71 225.67 122.61 225.93 122.47 226.18 122.28 226.44 122.07 226.70 121.83 226.95 121.56 227.21 121.27 227.47 120.97 227.72 120.66 227.98 120.34 228.23 120.03 228.49 119.73 228.75 119.44 229.00 119.17 229.26 118.93 229.52 118.72 229.77 118.53 230.03 118.39 230.29 118.29 230.54 118.22 230.80 118.20 231.06 118.22 231.32 118.27 231.58 118.35 231.84 118.46 232.10 118.60 232.35 118.77 232.61 118.96 232.87 119.16 233.13 119.39 233.39 119.62 233.65 119.85 233.91 120.08 234.17 120.31 234.43 120.54 234.69 120.74 234.95 120.93 235.20 121.10 235.46 121.24 235.72 121.35 235.98 121.43 236.24 121.48 236.50 121.50 236.76 121.48 237.02 121.43 237.27 121.34 237.53 121.22 237.79 121.06 238.05 120.89 238.31 120.69 238.56 120.48 238.82 120.26 239.08 120.04 239.34 119.82 239.59 119.61 239.85 119.41 240.11 119.24 240.37 119.08 240.63 118.96 240.88 118.87 241.14 118.82 241.40 118.80 241.66 118.83 241.91 118.91 242.17 119.04 242.43 119.22 242.68 119.44 242.94 119.70 243.19 119.97 243.45 120.25 243.71 120.53 243.96 120.80 244.22 121.06 244.47 121.28 244.73 121.46 244.99 121.59 245.24 121.67 245.50 121.70 245.75 121.68 246.00 121.60 246.25 121.49 246.50 121.33 246.75 121.13 247.00 120.90 247.25 120.64 247.50 120.35 247.75 120.06 248.00 119.75 248.25 119.44 248.50 119.15 248.75 118.86 249.00 118.60 249.25 118.37 249.50 118.17 249.75 118.01 250.00 117.90 250.25 117.82 250.50 117.80 250.75 117.82 251.00 117.88 251.25 117.99 251.50 118.13 251.75 118.30 252.00 118.52 252.25 118.76 252.50 119.03 252.75 119.33 253.00 119.64 253.25 119.97 253.50 120.31 253.75 120.65 254.00 120.99 254.25 121.33 254.50 121.66 254.75 121.97 255.00 122.27 255.25 122.54 255.50 122.78 255.75 123.00 256.00 123.17 256.25 123.31 256.50 123.42 256.75 123.48 257.00 123.50 257.25 123.48 257.50 123.42 257.75 123.33 258.00 123.20 258.25 123.04 258.50 122.85 258.75 122.62 259.00 122.38 259.25 122.11 259.50 121.82 259.75 121.52 260.00 121.21 260.25 120.90 260.50 120.59 260.75 120.28 261.00 119.98 261.25 119.69 261.50 119.42 261.75 119.18 262.00 118.95 262.25 118.76 262.50 118.60 262.75 118.47 263.00 118.38 263.25 118.32 263.50 118.30 263.75 118.32 264.00 118.37 264.25 118.46 264.50 118.58 264.75 118.73 265.00 118.92 265.25 119.12 265.50 119.35 265.75 119.60 266.00 119.86 266.25 120.13 266.50 120.40 266.75 120.67 267.00 120.94 267.25 121.20 267.50 121.45 267.75 121.68 268.00 121.88 268.25 122.07 268.50 122.22 268.75 122.34 269.00 122.43 269.25 122.48 269.50 122.50 269.75 122.49 270.00 122.45 270.25 122.39 270.50 122.30 270.75 122.19 271.00 122.06 271.25 121.91 271.50 121.75 271.75 121.57 272.00 121.39 272.25 121.20 272.50 121.00 272.75 120.80 273.00 120.61 273.25 120.43 273.50 120.25 273.75 120.09 274.00 119.94 274.25 119.81 274.50 119.70 274.75 119.61 275.00 119.55 275.25 119.51 275.50 119.50 275.75 119.51 276.00 119.53 276.25 119.57 276.50 119.62 276.75 119.68 277.00 119.75 277.25 119.83 277.50 119.91 277.75 120.00 278.00 120.09 278.25 120.17 278.50 120.25 278.75 120.32 279.00 120.38 279.25 120.43 279.50 120.47 279.75 120.49 280.00 120.50 280.25 120.51 280.50 120.55 280.75 120.61 281.00 120.70 281.25 120.81 281.50 120.94 281.75 121.09 282.00 121.25 282.25 121.43 282.50 121.61 282.75 121.80 283.00 122.00 283.25 122.20 283.50 122.39 283.75 122.57 284.00 122.75 284.25 122.91 284.50 123.06 284.75 123.19 285.00 123.30 285.25 123.39 285.50 123.45 285.75 123.49 286.00 123.50 286.25 123.49 286.50 123.44 286.75 123.37 287.00 123.28 287.25 123.16 287.50 123.01 287.75 122.84 288.00 122.65 288.25 122.45 288.50 122.23 288.75 121.99 289.00 121.75 289.25 121.50 289.50 121.25 289.75 121.00 290.00 120.75 290.25 120.51 290.50 120.27 290.75 120.05 291.00 119.85 291.25 119.66 291.50 119.49 291.75 119.34 292.00 119.22 292.25 119.13 292.50 119.06 292.75 119.01 293.00 119.00 293.25 119.01 293.50 119.04 293.75 119.10 294.00 119.17 294.25 119.27 294.50 119.38 294.75 119.51 295.00 119.66 295.25 119.82 295.50 119.99 295.75 120.17 296.00 120.36 296.25 120.55 296.50 120.75 296.75 120.95 297.00 121.14 297.25 121.33 297.50 121.51 297.75 121.68 298.00 121.84 298.25 121.99 298.50 122.12 298.75 122.23 299.00 122.33 299.25 122.40 299.50 122.46 299.75 122.49 300.00 122.50 300.25 122.49 300.50 122.45 300.75 122.39 301.00 122.30 301.25 122.19 301.50 122.06 301.75 121.91 302.00 121.75 302.25 121.57 302.50 121.39 302.75 121.20 303.00 121.00 303.25 120.80 303.50 120.61 303.75 120.43 304.00 120.25 304.25 120.09 304.50 119.94 304.75 119.81 305.00 119.70 305.25 119.61 305.50 119.55 305.75 119.51 306.00 119.50 306.25 119.51 306.50 119.54 306.75 119.58 307.00 119.65 307.25 119.73 307.50 119.83 307.75 119.94 308.00 120.06 308.25 120.20 308.50 120.35 308.75 120.50 309.00 120.67 309.25 120.83 309.50 121.00 309.75 121.17 310.00 121.33 310.25 121.50 310.50 121.65 310.75 121.80 311.00 121.94 311.25 122.06 311.50 122.17 311.75 122.27 312.00 122.35 312.25 122.42 312.50 122.46 312.75 122.49 313.00 122.50 313.25 122.49 313.50 122.46 313.75 122.40 314.00 122.33 314.25 122.24 314.50 122.13 314.75 122.01 315.00 121.88 315.25 121.73 315.50 121.57 315.75 121.41 316.00 121.25 316.25 121.09 316.50 120.93 316.75 120.77 317.00 120.62 317.25 120.49 317.50 120.37 317.75 120.26 318.00 120.17 318.25 120.10 318.50 120.04 318.75 120.01 319.00 120.00 319.25 120.01 319.50 120.03 319.75 120.08 320.00 120.13 320.25 120.21 320.50 120.29 320.75 120.39 321.00 120.50 321.25 120.62 321.50 120.74 321.75 120.87 322.00 121.00 322.25 121.13 322.50 121.26 322.75 121.38 323.00 121.50 323.25 121.61 323.50 121.71 323.75 121.79 324.00 121.87 324.25 121.92 324.50 121.97 324.75 121.99 325.00 122.00 325.25 121.99 325.50 121.96 325.75 121.92 326.00 121.86 326.25 121.78 326.50 121.69 326.75 121.59 327.00 121.48 327.25 121.37 327.50 121.25 327.75 121.13 328.00 121.02 328.25 120.91 328.50 120.81 328.75 120.72 329.00 120.64 329.25 120.58 329.50 120.54 329.75 120.51 330.00 120.50 330.25 120.51 330.50 120.53 330.75 120.57 331.00 120.62 331.25 120.68 331.50 120.75 331.75 120.82 332.00 120.90 332.25 120.98 332.50 121.05 332.75 121.12 333.00 121.18 333.25 121.23 333.50 121.27 333.75 121.29 334.00 121.30" fill="none" stroke="#ff2222" stroke-width="0.9" stroke-dasharray="3.2 2.6"/></g><path d="M36.10 241.1v-4.2M36.10 0.8v4.2M51.04 241.1v-2.6M51.04 0.8v2.6M65.97 241.1v-2.6M65.97 0.8v2.6M80.91 241.1v-2.6M80.91 0.8v2.6M95.84 241.1v-4.2M95.84 0.8v4.2M110.78 241.1v-2.6M110.78 0.8v2.6M125.71 241.1v-2.6M125.71 0.8v2.6M140.65 241.1v-2.6M140.65 0.8v2.6M155.58 241.1v-4.2M155.58 0.8v4.2M170.51 241.1v-2.6M170.51 0.8v2.6M185.45 241.1v-2.6M185.45 0.8v2.6M200.38 241.1v-2.6M200.38 0.8v2.6M215.32 241.1v-4.2M215.32 0.8v4.2M230.25 241.1v-2.6M230.25 0.8v2.6M245.19 241.1v-2.6M245.19 0.8v2.6M260.12 241.1v-2.6M260.12 0.8v2.6M275.06 241.1v-4.2M275.06 0.8v4.2M290.00 241.1v-2.6M290.00 0.8v2.6M304.93 241.1v-2.6M304.93 0.8v2.6M319.87 241.1v-2.6M319.87 0.8v2.6M334.80 241.1v-4.2M334.80 0.8v4.2M36.1 237.57h2.6M334.8 237.57h-2.6M36.1 230.71h2.6M334.8 230.71h-2.6M36.1 223.86h4.2M334.8 223.86h-4.2M36.1 217.00h2.6M334.8 217.00h-2.6M36.1 210.14h2.6M334.8 210.14h-2.6M36.1 203.29h2.6M334.8 203.29h-2.6M36.1 196.43h2.6M334.8 196.43h-2.6M36.1 189.57h4.2M334.8 189.57h-4.2M36.1 182.71h2.6M334.8 182.71h-2.6M36.1 175.86h2.6M334.8 175.86h-2.6M36.1 169.00h2.6M334.8 169.00h-2.6M36.1 162.14h2.6M334.8 162.14h-2.6M36.1 155.29h4.2M334.8 155.29h-4.2M36.1 148.43h2.6M334.8 148.43h-2.6M36.1 141.57h2.6M334.8 141.57h-2.6M36.1 134.71h2.6M334.8 134.71h-2.6M36.1 127.86h2.6M334.8 127.86h-2.6M36.1 121.00h4.2M334.8 121.00h-4.2M36.1 114.14h2.6M334.8 114.14h-2.6M36.1 107.29h2.6M334.8 107.29h-2.6M36.1 100.43h2.6M334.8 100.43h-2.6M36.1 93.57h2.6M334.8 93.57h-2.6M36.1 86.71h4.2M334.8 86.71h-4.2M36.1 79.86h2.6M334.8 79.86h-2.6M36.1 73.00h2.6M334.8 73.00h-2.6M36.1 66.14h2.6M334.8 66.14h-2.6M36.1 59.29h2.6M334.8 59.29h-2.6M36.1 52.43h4.2M334.8 52.43h-4.2M36.1 45.57h2.6M334.8 45.57h-2.6M36.1 38.71h2.6M334.8 38.71h-2.6M36.1 31.86h2.6M334.8 31.86h-2.6M36.1 25.00h2.6M334.8 25.00h-2.6M36.1 18.14h4.2M334.8 18.14h-4.2M36.1 11.29h2.6M334.8 11.29h-2.6M36.1 4.43h2.6M334.8 4.43h-2.6" stroke="#000" stroke-width="1.2" fill="none"/><rect x="36.1" y="0.8" width="298.7" height="240.3" fill="none" stroke="#000" stroke-width="1.35"/><rect x="190.9" y="6.7" width="135.99999999999997" height="46.199999999999996" fill="#fff" stroke="#808080" stroke-width="1.2"/><line x1="191.7" y1="12.85" x2="210.8" y2="12.85" stroke="#2ee02e" stroke-width="1.6" stroke-dasharray="1.6 1.85"/><text x="215" y="15.65" font-size="9.2" style="stroke-width:0.2">Benchmark</text><line x1="191.7" y1="24.00" x2="212.6" y2="24.00" stroke="#1414ff" stroke-width="1.4" stroke-dasharray="none"/><text x="215" y="26.80" font-size="9.2" style="stroke-width:0.2">Damping(0 A)- Stiffness(0 A)</text><line x1="191.7" y1="35.35" x2="212.6" y2="35.35" stroke="#8f8f10" stroke-width="1.2" stroke-dasharray="3.6 2.3"/><text x="215" y="38.15" font-size="9.2" style="stroke-width:0.2">Damping(PID)- Stiffness(0 A)</text><line x1="191.7" y1="46.90" x2="212.6" y2="46.90" stroke="#ff2222" stroke-width="1.2" stroke-dasharray="3.6 2.3"/><text x="215" y="49.70" font-size="9.2" style="stroke-width:0.2">Damping(2 A)- Stiffness(PID)</text><text transform="translate(31 21.8) scale(1.02 1.17)" text-anchor="end" font-size="10.5" style="stroke-width:0.08">30</text><text transform="translate(31 56.1) scale(1.02 1.17)" text-anchor="end" font-size="10.5" style="stroke-width:0.08">20</text><text transform="translate(31 90.4) scale(1.02 1.17)" text-anchor="end" font-size="10.5" style="stroke-width:0.08">10</text><text transform="translate(31 124.7) scale(1.02 1.17)" text-anchor="end" font-size="10.5" style="stroke-width:0.08">0</text><text transform="translate(31 159.0) scale(1.02 1.17)" text-anchor="end" font-size="10.5" style="stroke-width:0.08">-10</text><text transform="translate(31 193.3) scale(1.02 1.17)" text-anchor="end" font-size="10.5" style="stroke-width:0.08">-20</text><text transform="translate(31 227.6) scale(1.02 1.17)" text-anchor="end" font-size="10.5" style="stroke-width:0.08">-30</text><text transform="translate(36.1 255.2) scale(0.98 1.18)" text-anchor="middle" font-size="10.5" style="stroke-width:0.08">0</text><text transform="translate(95.8 255.2) scale(0.98 1.18)" text-anchor="middle" font-size="10.5" style="stroke-width:0.08">0.4</text><text transform="translate(155.6 255.2) scale(0.98 1.18)" text-anchor="middle" font-size="10.5" style="stroke-width:0.08">0.8</text><text transform="translate(215.3 255.2) scale(0.98 1.18)" text-anchor="middle" font-size="10.5" style="stroke-width:0.08">1.2</text><text transform="translate(275.1 255.2) scale(0.98 1.18)" text-anchor="middle" font-size="10.5" style="stroke-width:0.08">1.6</text><text transform="translate(334.8 255.2) scale(0.98 1.18)" text-anchor="middle" font-size="10.5" style="stroke-width:0.08">2.0</text><text x="186" y="267" text-anchor="middle" font-size="12.4">Time(s)</text><text transform="translate(11.8 116.2) rotate(-90)" text-anchor="middle" font-size="12.65">Acceleration(m/s<tspan font-size="7.5" dy="-5">2</tspan><tspan dy="5">)</tspan></text>
</svg></body></html>
